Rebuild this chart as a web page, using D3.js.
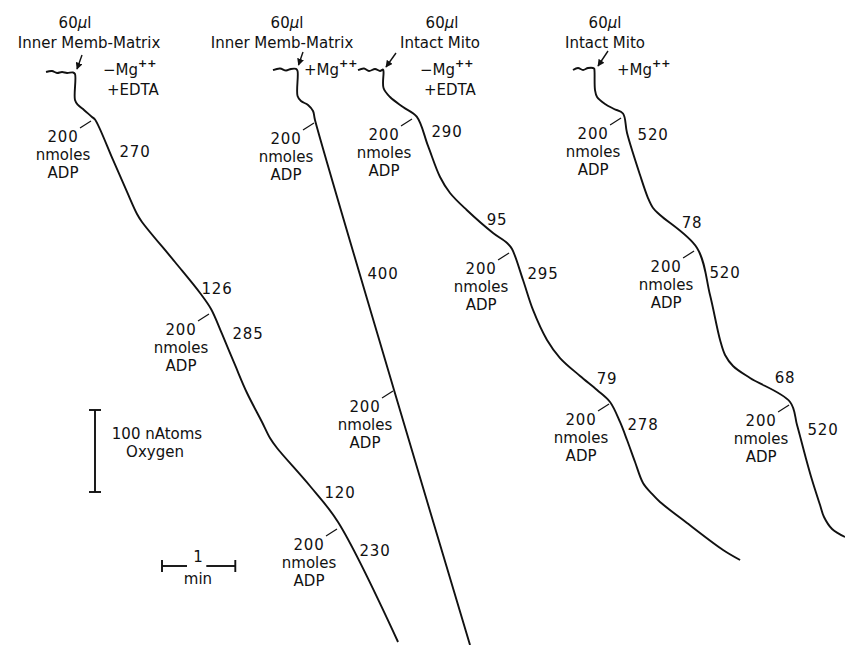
<!DOCTYPE html>
<html>
<head>
<meta charset="utf-8">
<script src="https://cdn.jsdelivr.net/npm/d3@7"></script>
<style>
  body { margin: 0; background: #fff; }
  svg text { font-family: "DejaVu Sans", "Liberation Sans", sans-serif; font-size: 15px; fill: #111; }
</style>
</head>
<body>
<svg id="chart" width="845" height="645"></svg>
<script>
"use strict";

// oxygen electrode traces: [time (min), O consumed (nAtoms)]
const traceMembNoMg = [
  [0.628, 87.8], [0.709, 86.6], [0.778, 89.0], [0.846, 87.8], [0.914, 89.0], [0.996, 88.4],
  [1.023, 90.2], [1.023, 122.0], [1.064, 128.0], [1.146, 134.1], [1.255, 142.7], [1.296, 145.7],
  [1.542, 195.1], [1.733, 234.1], [1.869, 261.0], [1.937, 270.7], [2.387, 319.5], [2.729, 357.3],
  [2.879, 376.8], [3.029, 407.3], [3.206, 445.1], [3.370, 479.3], [3.574, 514.6], [3.683, 534.1],
  [3.779, 546.3], [4.229, 592.7], [4.611, 636.6], [5.430, 782.9]
];
const traceMembMg = [
  [3.724, 85.4], [3.820, 83.5], [3.902, 86.0], [3.970, 84.1], [4.038, 84.1],
  [4.059, 86.6], [4.059, 117.1], [4.106, 123.2], [4.202, 128.0], [4.270, 135.4], [4.297, 146.3],
  [5.375, 475.6], [6.412, 786.6]
];
const traceMitoNoMg = [
  [4.884, 85.4], [4.966, 83.5], [5.034, 86.6], [5.116, 84.1], [5.184, 86.6], [5.225, 84.8],
  [5.232, 87.8], [5.232, 107.3], [5.321, 118.3], [5.498, 130.5], [5.685, 142.3],
  [5.839, 178.0], [6.003, 215.9], [6.139, 235.4], [6.367, 256.1], [6.726, 284.1], [6.917, 296.3],
  [6.985, 303.7], [7.135, 341.5], [7.271, 378.0], [7.462, 414.6], [7.640, 436.6], [7.913, 458.5],
  [8.145, 475.6], [8.322, 490.2], [8.458, 514.6], [8.554, 536.6], [8.663, 563.4], [8.772, 589.0],
  [8.895, 602.4], [9.004, 612.2], [9.372, 637.8], [9.864, 670.7], [10.096, 682.9]
];
const traceMitoMg = [
  [7.817, 85.4], [7.885, 82.9], [7.954, 85.4], [8.022, 82.9], [8.104, 83.5],
  [8.110, 86.6], [8.117, 109.8], [8.145, 118.3], [8.254, 126.8], [8.377, 132.9], [8.499, 138.4],
  [8.554, 162.2], [8.731, 213.4], [8.840, 241.5], [8.909, 253.7], [9.004, 262.2], [9.509, 302.4],
  [9.686, 359.8], [9.823, 414.6], [9.891, 432.9], [10.000, 446.3], [10.232, 461.0], [10.778, 490.2],
  [10.873, 518.3], [10.982, 554.9], [11.078, 585.4], [11.187, 615.9], [11.241, 630.5],
  [11.351, 645.1], [11.528, 654.9]
];
const traces = [traceMembNoMg, traceMembMg, traceMitoNoMg, traceMitoMg];

// points where 200 nmoles ADP was added
const adpAdded = [
  [1.255, 146.3], [2.865, 381.7], [4.611, 643.9],
  [4.297, 148.8], [5.375, 475.6],
  [5.634, 143.9], [6.958, 307.3], [8.322, 491.5],
  [8.486, 142.7], [9.482, 304.9], [10.778, 492.7]
];
const adpLines = ["200", "nmoles", "ADP"];

// respiration rates written beside each slope
const rateValues = ["270", "126", "285", "120", "230", "400", "290", "95", "295", "79", "278",
                    "520", "78", "520", "68", "520"];
const rateAt = [
  [1.842, 185.4], [2.960, 352.4], [3.383, 407.3], [4.638, 601.2], [5.116, 672.0],
  [5.225, 334.1], [6.098, 161.0], [6.780, 268.3], [7.408, 334.1], [8.281, 462.2], [8.772, 518.3],
  [8.909, 164.6], [9.441, 272.0], [9.891, 332.9], [10.709, 461.0], [11.228, 524.4]
];

const volumes = ["60", "60", "60", "60"];
const preps = ["Inner Memb-Matrix", "Inner Memb-Matrix", "Intact Mito", "Intact Mito"];
const conditions = [["−Mg", "+EDTA"], ["+Mg"], ["−Mg", "+EDTA"], ["+Mg"]];

const scaleOxygen = 100;   // nAtoms
const scaleTime = 1;       // min

// header placement (px)
const headerLayout = [
  { vol: [75, 23], prep: [89, 43], cond: [103, 70], arrow: [[82, 55], [77, 69]] },
  { vol: [287, 23], prep: [282, 43], cond: [304, 70], arrow: [[303, 52], [298.5, 65]] },
  { vol: [442, 23], prep: [440, 43], cond: [420, 70], arrow: [[396, 53], [386, 67]] },
  { vol: [605, 23], prep: [605, 43], cond: [617, 70], arrow: [[608, 51], [598, 66]] }
];

const lineGap = 17.6;

const svg = d3.select("#chart");

const x = d3.scaleLinear().domain([0, 11.5]).range([0, 843]);
const y = d3.scaleLinear().domain([0, 790]).range([0, 647.8]);

const line = d3.line()
  .x(function(d) { return x(d[0]); })
  .y(function(d) { return y(d[1]); })
  .curve(d3.curveCatmullRom.alpha(0.5));

svg.append("defs").append("marker")
  .attr("id", "head")
  .attr("viewBox", "0 0 10 10")
  .attr("refX", 9).attr("refY", 5)
  .attr("markerWidth", 7).attr("markerHeight", 7)
  .attr("markerUnits", "userSpaceOnUse")
  .attr("orient", "auto")
  .append("path")
  .attr("d", "M0,0 L10,5 L0,10 z")
  .attr("fill", "#111");

// traces
svg.selectAll(".trace")
  .data(traces)
  .enter()
  .append("path")
  .attr("class", "trace")
  .attr("d", line)
  .attr("fill", "none")
  .attr("stroke", "#111")
  .attr("stroke-width", 1.9)
  .attr("stroke-linejoin", "round");

// ADP additions
const adp = svg.selectAll(".adp")
  .data(adpAdded)
  .enter()
  .append("g")
  .attr("class", "adp")
  .attr("transform", function(d) { return "translate(" + x(d[0]) + "," + y(d[1]) + ")"; });

adp.append("line")
  .attr("x1", -12).attr("y1", 8)
  .attr("x2", -1).attr("y2", 1)
  .attr("stroke", "#111")
  .attr("stroke-width", 1.2);

adp.selectAll("text")
  .data(adpLines)
  .enter()
  .append("text")
  .attr("x", -29)
  .attr("y", function(d, i) { return 17 + i * lineGap; })
  .attr("dy", "0.36em")
  .attr("text-anchor", "middle")
  .attr("letter-spacing", function(d, i) { return i == 0 ? 0.8 : 0; })
  .text(function(d) { return d; });

// rates
svg.selectAll(".rate")
  .data(rateValues)
  .enter()
  .append("text")
  .attr("class", "rate")
  .attr("x", function(d, i) { return x(rateAt[i][0]); })
  .attr("y", function(d, i) { return y(rateAt[i][1]); })
  .attr("dy", "0.36em")
  .attr("text-anchor", "middle")
  .attr("letter-spacing", 0.8)
  .text(function(d) { return d; });

// headers
const head = svg.selectAll(".head")
  .data(headerLayout)
  .enter()
  .append("g")
  .attr("class", "head");

const vol = head.append("text")
  .attr("x", function(d) { return d.vol[0]; })
  .attr("y", function(d) { return d.vol[1]; })
  .attr("dy", "0.36em")
  .attr("text-anchor", "middle")
  .text(function(d, i) { return volumes[i]; });
vol.append("tspan").attr("font-style", "italic").text("μ");
vol.append("tspan").text("l");

head.append("text")
  .attr("x", function(d) { return d.prep[0]; })
  .attr("y", function(d) { return d.prep[1]; })
  .attr("dy", "0.36em")
  .attr("text-anchor", "middle")
  .text(function(d, i) { return preps[i]; });

head.append("line")
  .attr("x1", function(d) { return d.arrow[0][0]; })
  .attr("y1", function(d) { return d.arrow[0][1]; })
  .attr("x2", function(d) { return d.arrow[1][0]; })
  .attr("y2", function(d) { return d.arrow[1][1]; })
  .attr("stroke", "#111")
  .attr("stroke-width", 1.4)
  .attr("marker-end", "url(#head)");

head.each(function(d, i) {
  const g = d3.select(this);
  conditions[i].forEach(function(c, j) {
    const t = g.append("text")
      .attr("x", d.cond[0] + (j > 0 ? 4 : 0))
      .attr("y", d.cond[1] + j * 20)
      .attr("dy", "0.36em")
      .text(c);
    if (c.indexOf("Mg") >= 0) {
      t.append("tspan").attr("dy", -8).attr("font-size", 11).attr("font-weight", "bold").text("++");
    }
  });
});

// scale bars
const bars = svg.append("g").attr("stroke", "#111").attr("stroke-width", 1.9);
const vx = 95, vy = 410, vLen = y(scaleOxygen) - y(0);
bars.append("line").attr("x1", vx).attr("x2", vx).attr("y1", vy).attr("y2", vy + vLen);
bars.append("line").attr("x1", vx - 6).attr("x2", vx + 6).attr("y1", vy).attr("y2", vy);
bars.append("line").attr("x1", vx - 6).attr("x2", vx + 6).attr("y1", vy + vLen).attr("y2", vy + vLen);

const hx = 162, hy = 566, hLen = x(scaleTime) - x(0);
bars.append("line").attr("x1", hx).attr("x2", hx + 25).attr("y1", hy).attr("y2", hy);
bars.append("line").attr("x1", hx + hLen - 29).attr("x2", hx + hLen).attr("y1", hy).attr("y2", hy);
bars.append("line").attr("x1", hx).attr("x2", hx).attr("y1", hy - 6).attr("y2", hy + 6);
bars.append("line").attr("x1", hx + hLen).attr("x2", hx + hLen).attr("y1", hy - 6).attr("y2", hy + 6);

svg.append("text").attr("x", 157).attr("y", 434).attr("dy", "0.36em")
  .attr("text-anchor", "middle").text(scaleOxygen + " nAtoms");
svg.append("text").attr("x", 155).attr("y", 452).attr("dy", "0.36em")
  .attr("text-anchor", "middle").text("Oxygen");
svg.append("text").attr("x", hx + 36).attr("y", 557).attr("dy", "0.36em")
  .attr("text-anchor", "middle").text(scaleTime);
svg.append("text").attr("x", hx + 36).attr("y", 579).attr("dy", "0.36em")
  .attr("text-anchor", "middle").text("min");
</script>
</body>
</html>
